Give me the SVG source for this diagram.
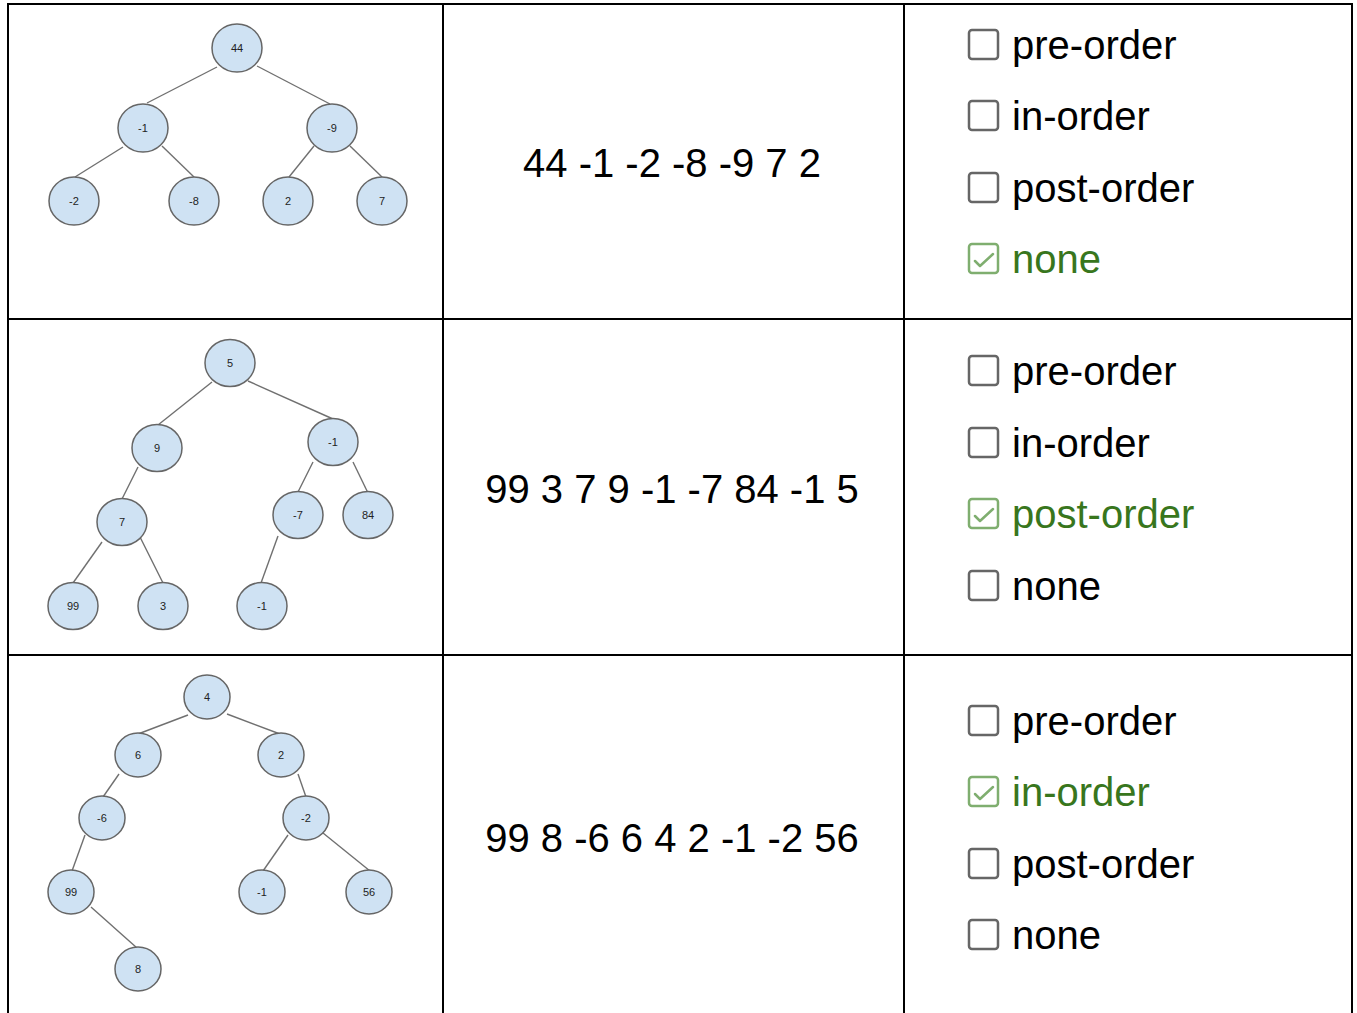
<svg xmlns="http://www.w3.org/2000/svg" width="1357" height="1013" viewBox="0 0 1357 1013">
<style>
.grid{stroke:#000;stroke-width:2;fill:none}
.edge{stroke:#707070;stroke-width:1.4;fill:none}
.n1{fill:#cfe2f3;stroke:#666;stroke-width:1.5}
.nt{font-family:"Liberation Sans",Arial,sans-serif;font-size:11px;fill:#222;text-anchor:middle}
.seq{font-family:"Liberation Sans",Arial,sans-serif;font-size:40px;fill:#000;text-anchor:middle}
.opt{font-family:"Liberation Sans",Arial,sans-serif;font-size:40px;fill:#000}
.ok{fill:#38761d}
.box{fill:none;stroke:#666;stroke-width:2.5}
.boxok{fill:none;stroke:#7fae6f;stroke-width:2.5}
.chk{fill:none;stroke:#7fae6f;stroke-width:2.5;stroke-linecap:round;stroke-linejoin:round}
</style>
<defs>
<rect id="cb" x="0" y="0" width="29" height="29" rx="3"/>
</defs>
<rect x="0" y="0" width="1357" height="1013" fill="#fff"/>

<g id="table">
<line class="grid" x1="8" y1="4" x2="1352" y2="4"/>
<line class="grid" x1="8" y1="319" x2="1352" y2="319"/>
<line class="grid" x1="8" y1="655" x2="1352" y2="655"/>
<line class="grid" x1="8" y1="3" x2="8" y2="1013"/>
<line class="grid" x1="443" y1="3" x2="443" y2="1013"/>
<line class="grid" x1="904" y1="3" x2="904" y2="1013"/>
<line class="grid" x1="1352" y1="3" x2="1352" y2="1013"/>
</g>

<g id="connectors">
<line class="edge" x1="217" y1="67" x2="147" y2="103"/>
<line class="edge" x1="257" y1="66" x2="330" y2="104"/>
<line class="edge" x1="123" y1="147" x2="75" y2="177"/>
<line class="edge" x1="162" y1="146" x2="194" y2="177"/>
<line class="edge" x1="314" y1="146" x2="289" y2="177"/>
<line class="edge" x1="350" y1="146" x2="382" y2="177"/>

<line class="edge" x1="212" y1="382" x2="158" y2="425"/>
<line class="edge" x1="248" y1="381" x2="333" y2="419"/>
<line class="edge" x1="138" y1="467" x2="122" y2="499"/>
<line class="edge" x1="313" y1="462" x2="298" y2="492"/>
<line class="edge" x1="353" y1="462" x2="368" y2="493"/>
<line class="edge" x1="102" y1="542" x2="73" y2="583"/>
<line class="edge" x1="140" y1="537" x2="163" y2="583"/>
<line class="edge" x1="278" y1="536" x2="261" y2="583"/>

<line class="edge" x1="188" y1="715" x2="138" y2="734"/>
<line class="edge" x1="227" y1="714" x2="280" y2="734"/>
<line class="edge" x1="119" y1="774" x2="103" y2="797"/>
<line class="edge" x1="298" y1="774" x2="306" y2="797"/>
<line class="edge" x1="85" y1="835" x2="72" y2="871"/>
<line class="edge" x1="288" y1="835" x2="263" y2="871"/>
<line class="edge" x1="323" y1="833" x2="370" y2="871"/>
<line class="edge" x1="91" y1="907" x2="137" y2="948"/>
</g>

<g id="tree1">
<g id="t1-44"><ellipse class="n1" cx="237" cy="48" rx="25" ry="24"/><text class="nt" x="237" y="52">44</text></g>
<g id="t1-m1"><ellipse class="n1" cx="143" cy="128" rx="25" ry="24"/><text class="nt" x="143" y="132">-1</text></g>
<g id="t1-m9"><ellipse class="n1" cx="332" cy="128" rx="25" ry="24"/><text class="nt" x="332" y="132">-9</text></g>
<g id="t1-m2"><ellipse class="n1" cx="74" cy="201" rx="25" ry="24"/><text class="nt" x="74" y="205">-2</text></g>
<g id="t1-m8"><ellipse class="n1" cx="194" cy="201" rx="25" ry="24"/><text class="nt" x="194" y="205">-8</text></g>
<g id="t1-2"><ellipse class="n1" cx="288" cy="201" rx="25" ry="24"/><text class="nt" x="288" y="205">2</text></g>
<g id="t1-7"><ellipse class="n1" cx="382" cy="201" rx="25" ry="24"/><text class="nt" x="382" y="205">7</text></g>
</g>

<g id="tree2">
<g id="t2-5"><ellipse class="n1" cx="230" cy="363" rx="25" ry="23.5"/><text class="nt" x="230" y="367">5</text></g>
<g id="t2-9"><ellipse class="n1" cx="157" cy="448" rx="25" ry="23.5"/><text class="nt" x="157" y="452">9</text></g>
<g id="t2-m1a"><ellipse class="n1" cx="333" cy="442" rx="25" ry="23.5"/><text class="nt" x="333" y="446">-1</text></g>
<g id="t2-7"><ellipse class="n1" cx="122" cy="522" rx="25" ry="23.5"/><text class="nt" x="122" y="526">7</text></g>
<g id="t2-m7"><ellipse class="n1" cx="298" cy="515" rx="25" ry="23.5"/><text class="nt" x="298" y="519">-7</text></g>
<g id="t2-84"><ellipse class="n1" cx="368" cy="515" rx="25" ry="23.5"/><text class="nt" x="368" y="519">84</text></g>
<g id="t2-99"><ellipse class="n1" cx="73" cy="606" rx="25" ry="23.5"/><text class="nt" x="73" y="610">99</text></g>
<g id="t2-3"><ellipse class="n1" cx="163" cy="606" rx="25" ry="23.5"/><text class="nt" x="163" y="610">3</text></g>
<g id="t2-m1b"><ellipse class="n1" cx="262" cy="606" rx="25" ry="23.5"/><text class="nt" x="262" y="610">-1</text></g>
</g>

<g id="tree3">
<g id="t3-4"><ellipse class="n1" cx="207" cy="697" rx="23" ry="22"/><text class="nt" x="207" y="701">4</text></g>
<g id="t3-6"><ellipse class="n1" cx="138" cy="755" rx="23" ry="22"/><text class="nt" x="138" y="759">6</text></g>
<g id="t3-2"><ellipse class="n1" cx="281" cy="755" rx="23" ry="22"/><text class="nt" x="281" y="759">2</text></g>
<g id="t3-m6"><ellipse class="n1" cx="102" cy="818" rx="23" ry="22"/><text class="nt" x="102" y="822">-6</text></g>
<g id="t3-m2"><ellipse class="n1" cx="306" cy="818" rx="23" ry="22"/><text class="nt" x="306" y="822">-2</text></g>
<g id="t3-99"><ellipse class="n1" cx="71" cy="892" rx="23" ry="22"/><text class="nt" x="71" y="896">99</text></g>
<g id="t3-m1"><ellipse class="n1" cx="262" cy="892" rx="23" ry="22"/><text class="nt" x="262" y="896">-1</text></g>
<g id="t3-56"><ellipse class="n1" cx="369" cy="892" rx="23" ry="22"/><text class="nt" x="369" y="896">56</text></g>
<g id="t3-8"><ellipse class="n1" cx="138" cy="969" rx="23" ry="22"/><text class="nt" x="138" y="973">8</text></g>
</g>

<g id="sequences">
<text class="seq" x="672" y="177">44 -1 -2 -8 -9 7 2</text>
<text class="seq" x="672" y="503">99 3 7 9 -1 -7 84 -1 5</text>
<text class="seq" x="672" y="852">99 8 -6 6 4 2 -1 -2 56</text>
</g>

<g id="options1">
<use href="#cb" class="box" x="969" y="30"/><text class="opt" x="1012" y="59">pre-order</text>
<use href="#cb" class="box" x="969" y="101"/><text class="opt" x="1012" y="130">in-order</text>
<use href="#cb" class="box" x="969" y="173"/><text class="opt" x="1012" y="202">post-order</text>
<use href="#cb" class="boxok" x="969" y="244"/><polyline class="chk" points="975,261 980,266 993,254"/><text class="opt ok" x="1012" y="273">none</text>
</g>
<g id="options2">
<use href="#cb" class="box" x="969" y="356"/><text class="opt" x="1012" y="385">pre-order</text>
<use href="#cb" class="box" x="969" y="428"/><text class="opt" x="1012" y="457">in-order</text>
<use href="#cb" class="boxok" x="969" y="499"/><polyline class="chk" points="975,516 980,521 993,509"/><text class="opt ok" x="1012" y="528">post-order</text>
<use href="#cb" class="box" x="969" y="571"/><text class="opt" x="1012" y="600">none</text>
</g>
<g id="options3">
<use href="#cb" class="box" x="969" y="706"/><text class="opt" x="1012" y="735">pre-order</text>
<use href="#cb" class="boxok" x="969" y="777"/><polyline class="chk" points="975,794 980,799 993,787"/><text class="opt ok" x="1012" y="806">in-order</text>
<use href="#cb" class="box" x="969" y="849"/><text class="opt" x="1012" y="878">post-order</text>
<use href="#cb" class="box" x="969" y="920"/><text class="opt" x="1012" y="949">none</text>
</g>
</svg>
